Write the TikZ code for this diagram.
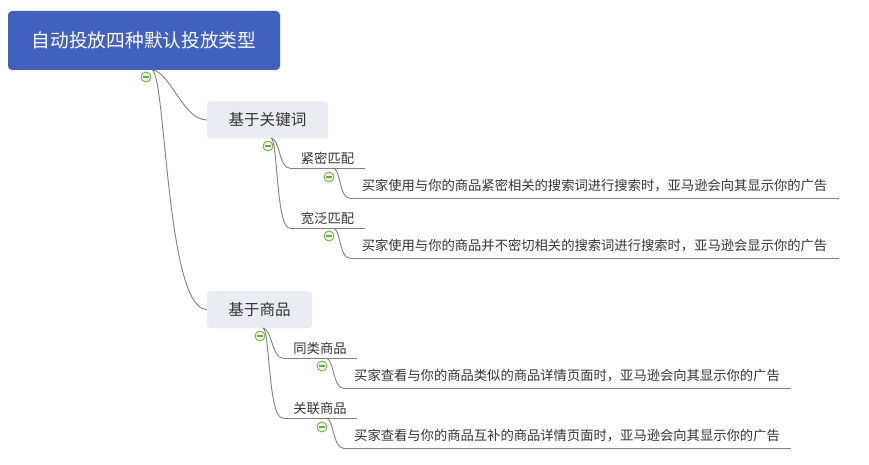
\documentclass[tikz,border=0pt]{standalone}
\usepackage{fontspec}
\setmainfont{Noto Sans CJK SC}
\definecolor{rootblue}{RGB}{66,97,190}
\definecolor{topicfill}{RGB}{235,235,243}
\definecolor{linegray}{RGB}{128,128,128}
\definecolor{foldgreen}{RGB}{112,182,66}
\definecolor{foldfill}{RGB}{236,246,226}
\definecolor{textdark}{RGB}{51,51,51}

\begin{document}
\begin{tikzpicture}[x=1pt,y=-1pt,
    root/.style={fill=rootblue, rounded corners=4pt, text=white, font=\fontsize{18.7}{22}\selectfont, minimum width=272pt, minimum height=59pt, inner sep=0pt},
    topic/.style={fill=topicfill, rounded corners=3pt, text=textdark, font=\fontsize{15.6}{18}\selectfont, minimum height=37pt, inner sep=0pt},
    leaf/.style={text=textdark, font=\fontsize{13.3}{16}\selectfont, inner sep=0pt, minimum height=20pt},
    desc/.style={leaf, minimum height=24pt},
    link/.style={draw=linegray, line width=0.9pt},
    fold/.style={circle, draw=foldgreen, fill=foldfill, line width=0.9pt, minimum size=10pt, inner sep=0pt,
      path picture={\draw[foldgreen!60!gray, line width=1.6pt] ([xshift=-3pt]path picture bounding box.center) -- ([xshift=3pt]path picture bounding box.center);}}]
      \useasboundingbox (0,0) rectangle (869,465);
      \node[root] (root) at (144,40.5) {自动投放四种默认投放类型};
      \node[topic, minimum width=121pt] (kw) at (267.5,120) {基于关键词};
      \node[topic, minimum width=105pt] (prod) at (259.5,309.5) {基于商品};
      \node[leaf, minimum width=75pt] (kwtight) at (327.5,158) {紧密匹配};
      \node[leaf, minimum width=75pt] (kwloose) at (327.5,218) {宽泛匹配};
      \node[leaf, minimum width=74pt] (prodsim) at (320,348) {同类商品};
      \node[leaf, minimum width=74pt] (prodrel) at (320,408) {关联商品};
      \node[desc, minimum width=489pt] (tightdesc) at (594.5,186) {买家使用与你的商品紧密相关的搜索词进行搜索时，亚马逊会向其显示你的广告};
      \node[desc, minimum width=489pt] (loosedesc) at (594.5,246) {买家使用与你的商品并不密切相关的搜索词进行搜索时，亚马逊会显示你的广告};
      \node[desc, minimum width=447pt] (simdesc) at (567,376) {买家查看与你的商品类似的商品详情页面时，亚马逊会向其显示你的广告};
      \node[desc, minimum width=447pt] (reldesc) at (567,436) {买家查看与你的商品互补的商品详情页面时，亚马逊会向其显示你的广告};
      \coordinate (rootout) at (152,70);
      \coordinate (kwout) at (271,138);
      \coordinate (prodout) at (263,328);
      \coordinate (tightout) at (333,168);
      \coordinate (looseout) at (333,228);
      \coordinate (simout) at (326,358);
      \coordinate (relout) at (326,418);
      \draw[link] (rootout) .. controls (170,71) and (183,120) .. (kw.west);
      \draw[link] (rootout) .. controls (166,74) and (166,309.5) .. (prod.west);
      \draw[link] (kwout) .. controls (280,139) and (279,168) .. (kwtight.south west);
      \draw[link] (kwout) .. controls (278,140) and (276,228) .. (kwloose.south west);
      \draw[link] (prodout) .. controls (272,329) and (272,358) .. (prodsim.south west);
      \draw[link] (prodout) .. controls (270,330) and (268,418) .. (prodrel.south west);
      \draw[link] (tightout) .. controls (341,169) and (339,198) .. (tightdesc.south west);
      \draw[link] (looseout) .. controls (341,229) and (339,258) .. (loosedesc.south west);
      \draw[link] (simout) .. controls (334,359) and (333,388) .. (simdesc.south west);
      \draw[link] (relout) .. controls (334,419) and (333,448) .. (reldesc.south west);
      \foreach \n in {kwtight,kwloose,prodsim,prodrel,tightdesc,loosedesc,simdesc,reldesc}
        \draw[link] (\n.south west) -- (\n.south east);
      \node[fold] (rootfold) at (146,77) {};
      \node[fold] (kwfold) at (268,146) {};
      \node[fold] (prodfold) at (260,336) {};
      \node[fold] (tightfold) at (329,177) {};
      \node[fold] (loosefold) at (329,236) {};
      \node[fold] (simfold) at (322,366) {};
      \node[fold] (relfold) at (322,427) {};
    \end{tikzpicture}
\end{document}
